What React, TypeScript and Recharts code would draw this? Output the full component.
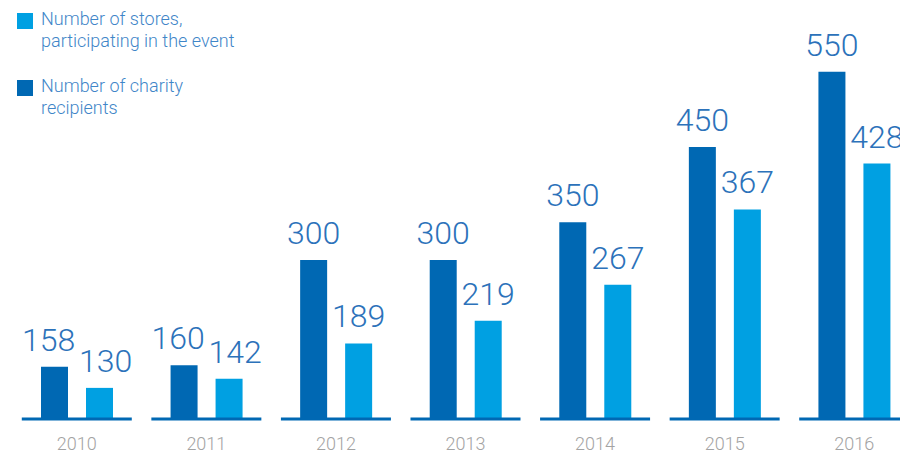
import React from 'react';
import { BarChart, Bar, XAxis, YAxis, LabelList } from 'recharts';

const years = ['2010', '2011', '2012', '2013', '2014', '2015', '2016'];
const charityRecipients = [158, 160, 300, 300, 350, 450, 550];
const storesParticipating = [130, 142, 189, 219, 267, 367, 428];

const DARK = '#0068b3';
const LIGHT = '#00a0e2';
const LABEL_BLUE = '#2c72ba';
const LEGEND_BLUE = '#3f86c8';

const data = years.map((year, i) => ({
  year,
  charity: charityRecipients[i],
  stores: storesParticipating[i],
}));

// push the two labels apart when the bars are close in height
const makeLabel = (side: -1 | 1) => (props: any) => {
  const { x, y, width, value, index } = props;
  const diff = Math.abs(charityRecipients[index] - storesParticipating[index]);
  const dx = diff < 50 ? side * 6 : 0;
  return (
    <text
      x={x + width / 2 + dx}
      y={y - 16}
      textAnchor="middle"
      fill={LABEL_BLUE}
      fontSize={32}
      fontWeight={300}
      fontFamily="Roboto, sans-serif"
    >
      {value}
    </text>
  );
};

const YearTick = (props: any) => {
  const { x, y, payload } = props;
  return (
    <g>
      <line x1={x - 55} x2={x + 55} y1={y + 1} y2={y + 1} stroke={DARK} strokeWidth={3} />
      <text
        x={x}
        y={y + 32}
        textAnchor="middle"
        fill="#a3a3a3"
        fontSize={18}
        fontWeight={300}
        fontFamily="Roboto, sans-serif"
      >
        {payload.value}
      </text>
    </g>
  );
};

const legendItems = [
  { color: LIGHT, lines: ['Number of stores,', 'participating in the event'] },
  { color: DARK, lines: ['Number of charity', 'recipients'] },
];

const ChartLegend = () => (
  <div
    style={{
      position: 'absolute',
      top: 8,
      left: 17,
      fontFamily: 'Roboto, sans-serif',
      fontSize: 18,
      fontWeight: 300,
      lineHeight: '22px',
      color: LEGEND_BLUE,
    }}
  >
    {legendItems.map((item, i) => (
      <div key={i} style={{ display: 'flex', marginBottom: i === 0 ? 23 : 0 }}>
        <div style={{ width: 16, height: 16, background: item.color, marginTop: 4.5, marginRight: 8, flexShrink: 0 }} />
        <div>
          {item.lines.map((l) => (
            <div key={l}>{l}</div>
          ))}
        </div>
      </div>
    ))}
  </div>
);

export default function App() {
  return (
    <div style={{ position: 'absolute', left: 0, top: 0, width: 900, height: 453, overflow: 'hidden', background: '#fff' }}>
      <BarChart
        width={919}
        height={453}
        data={data}
        margin={{ top: 34, right: 0, bottom: 0, left: 12 }}
        barSize={27}
        barGap={18}
      >
        <XAxis
          dataKey="year"
          axisLine={false}
          tickLine={false}
          tickSize={0}
          tickMargin={0}
          height={35}
          interval={0}
          tick={<YearTick />}
        />
        <YAxis hide type="number" domain={[90, 600]} allowDataOverflow />
        <Bar dataKey="charity" fill={DARK} isAnimationActive={false}>
          <LabelList dataKey="charity" content={makeLabel(-1)} />
        </Bar>
        <Bar dataKey="stores" fill={LIGHT} isAnimationActive={false}>
          <LabelList dataKey="stores" content={makeLabel(1)} />
        </Bar>
      </BarChart>
      <ChartLegend />
    </div>
  );
}
